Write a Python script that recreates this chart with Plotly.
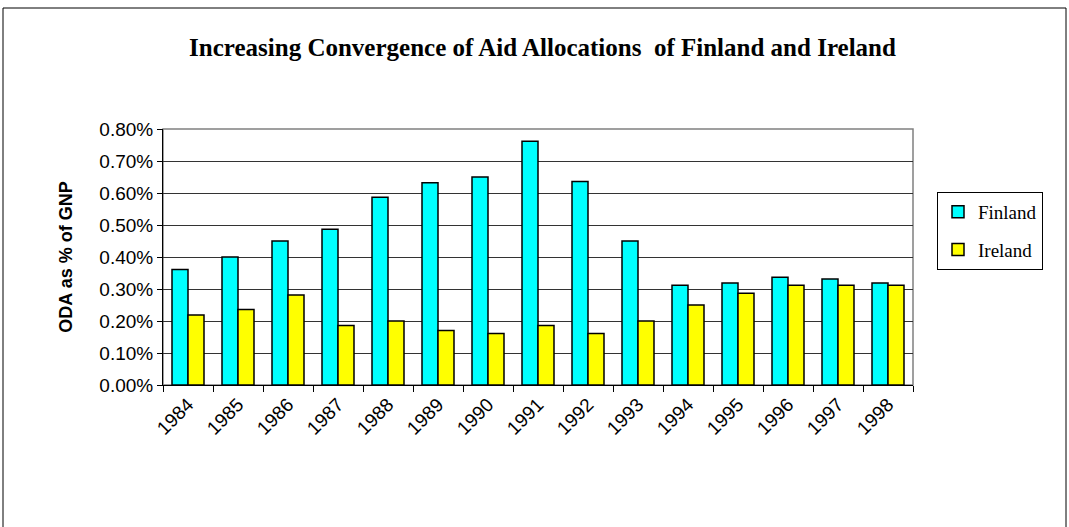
import plotly.graph_objects as go

years = ["1984", "1985", "1986", "1987", "1988", "1989", "1990", "1991",
         "1992", "1993", "1994", "1995", "1996", "1997", "1998"]
finland = [0.00361, 0.00400, 0.00450, 0.00487, 0.00587, 0.00632, 0.00650, 0.00762,
           0.00636, 0.00450, 0.00312, 0.00319, 0.00337, 0.00331, 0.00319]
ireland = [0.00219, 0.00236, 0.00281, 0.00186, 0.00200, 0.00170, 0.00161, 0.00186,
           0.00161, 0.00200, 0.00250, 0.00287, 0.00312, 0.00312, 0.00312]
y_ticks = [0, 0.001, 0.002, 0.003, 0.004, 0.005, 0.006, 0.007, 0.008]

fig = go.Figure()
fig.add_trace(go.Bar(x=years, y=finland, name="Finland", legendgroup="a",
                     marker=dict(color="#00FFFF", line=dict(color="black", width=1.5))))
fig.add_trace(go.Bar(x=years, y=ireland, name="Ireland", legendgroup="b",
                     marker=dict(color="#FFFF00", line=dict(color="black", width=1.5))))

fig.update_layout(
    width=1069, height=527,
    margin=dict(l=163, r=156, t=129, b=142),
    paper_bgcolor="white", plot_bgcolor="white",
    barmode="group", bargap=0.36, bargroupgap=0,
    title=dict(text="<b>Increasing Convergence of Aid Allocations  of Finland and Ireland</b>",
               font=dict(family="Liberation Serif", size=25, color="black"),
               x=(188 + 897) / 2 / 1069, xanchor="center", y=1 - 47 / 527, yanchor="middle"),
    showlegend=True,
    legend=dict(x=1.032, y=0.754, xanchor="left", yanchor="top",
                bordercolor="black", borderwidth=1, bgcolor="white",
                font=dict(family="Liberation Serif", size=19, color="black"),
                traceorder="grouped", tracegroupgap=10),
    xaxis=dict(type="category", tickson="boundaries", ticks="outside", ticklen=6,
               tickcolor="black", tickangle=-45, showline=True, linecolor="black",
               tickfont=dict(family="Liberation Sans", size=19, color="black"),
               mirror=False, showgrid=False),
    yaxis=dict(range=[0, 0.008], tickvals=y_ticks, tickformat=".2%",
               ticks="outside", ticklen=5, tickcolor="black",
               showline=True, linecolor="black", showgrid=True, gridcolor="#333333",
               gridwidth=1, zeroline=False,
               tickfont=dict(family="Liberation Sans", size=19, color="black"),
               title=dict(text="<b>ODA as % of GNP</b>", standoff=22,
                          font=dict(family="Liberation Sans", size=18, color="black"))),
)
# plot area border (gray, top and right)
fig.add_shape(type="rect", xref="paper", yref="paper", x0=0, y0=0, x1=1, y1=1,
              line=dict(color="#808080", width=1.5), layer="below")
# chart border
fig.add_shape(type="rect", xref="paper", yref="paper",
              x0=-160 / 750, y0=-(527 - 385 + 10) / 256, x1=(1066 - 163) / 750, y1=(385 - 8) / 256,
              line=dict(color="black", width=1))

fig.write_html("out.html", config={"displayModeBar": False},
               post_script="document.body.style.margin='0';document.body.style.overflow='hidden';")
